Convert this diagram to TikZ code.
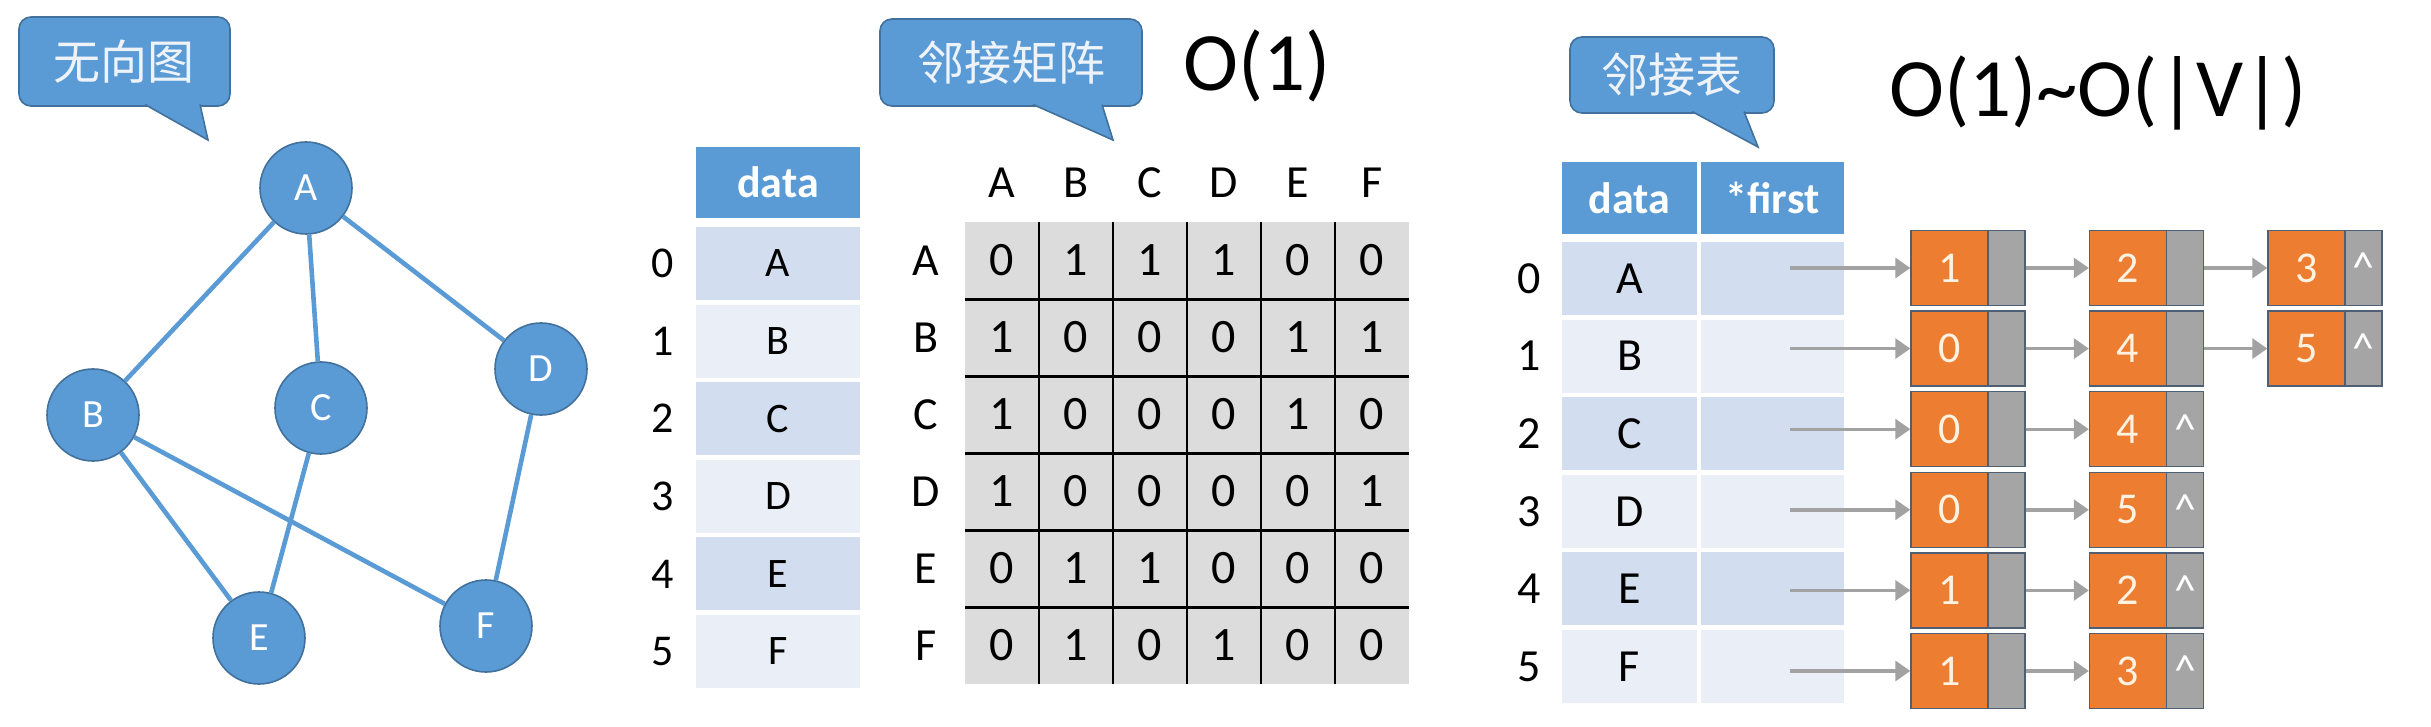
\documentclass[tikz,border=0pt]{standalone}
\usepackage{fontspec}
\setmainfont{Carlito}
\newfontfamily\cjk{Noto Sans CJK SC}
\usetikzlibrary{arrows.meta}
\definecolor{ublue}{HTML}{5B9BD5}
\definecolor{ubord}{HTML}{41719C}
\definecolor{bubtext}{HTML}{EEF3FA}
\definecolor{rowA}{HTML}{D2DEEF}
\definecolor{rowB}{HTML}{EAEFF7}
\definecolor{mgray}{HTML}{DCDCDC}
\definecolor{lorange}{HTML}{ED7D31}
\definecolor{lgray}{HTML}{A5A5A5}
\definecolor{lbord}{HTML}{4F6075}
\definecolor{arrgray}{HTML}{A2A2A2}
\definecolor{ctext}{HTML}{FFF2E2}
\begin{document}
\begin{tikzpicture}[x=0.5pt,y=-0.5pt]
\tikzset{
  vert/.style={circle, fill=ublue, draw=ubord, line width=0.8pt, minimum size=46pt, inner sep=0pt, text=white, font=\fontsize{20}{20}\selectfont},
  gedge/.style={ublue, line width=2.3pt},
  bubble/.style={rounded corners=6pt, fill=ublue, draw=ubord, line width=0.8pt, text=bubtext, font=\cjk\fontsize{23.5}{24}\selectfont, inner sep=0pt},
  tailfill/.style={fill=ublue},
  tailline/.style={draw=ubord, line width=0.8pt},
  hdr/.style={fill=ublue, text=white, font=\bfseries\fontsize{22}{22}\selectfont, inner sep=0pt},
  cellbox/.style={inner sep=0pt, font=\fontsize{21}{21}\selectfont},
  idx/.style={inner sep=0pt, font=\fontsize{22}{22}\selectfont},
  mcell/.style={fill=mgray, minimum width=37pt, minimum height=38.5pt, inner sep=0pt, font=\fontsize{24}{24}\selectfont},
  mlab/.style={inner sep=0pt, font=\fontsize{23}{23}\selectfont},
  bigtxt/.style={inner sep=0pt, font=\fontsize{41.5}{41.5}\selectfont},
  lorg/.style={fill=lorange, draw=lbord, line width=0.7pt, minimum width=38.5pt, minimum height=37.5pt, inner sep=0pt, text=ctext, font=\fontsize{22}{22}\selectfont},
  lgry/.style={fill=lgray, draw=lbord, line width=0.7pt, minimum width=18.5pt, minimum height=37.5pt, inner sep=0pt, text=white, font=\fontsize{22}{22}\selectfont},
  larrow/.style={arrgray, line width=1.7pt, -{Triangle[length=7.5pt,width=10pt]}},
  mline/.style={black, line width=1pt}
}
\fill[white] (0,0) rectangle (2431,727);
\useasboundingbox (0,0) rectangle (2431,727);

% ---------------- graph ----------------
\node[vert] (A) at (306,188) {A};
\node[vert] (B) at (93,415) {B};
\node[vert] (C) at (321,408) {C};
\node[vert] (D) at (541,369) {D};
\node[vert] (E) at (259,638) {E};
\node[vert] (F) at (486,626) {F};
\draw[gedge] (A) -- (B);
\draw[gedge] (A) -- (C);
\draw[gedge] (A) -- (D);
\draw[gedge] (B) -- (E);
\draw[gedge] (B) -- (F);
\draw[gedge] (C) -- (E);
\draw[gedge] (D) -- (F);

% ---------------- bubbles ----------------
\node[bubble, minimum width=105.5pt, minimum height=44.5pt] (bub1) at (124.5,61.5) {无向图};
\coordinate (t1l) at (145,104.5);
\coordinate (t1r) at (200,104.5);
\coordinate (t1tip) at (208,140);
\fill[tailfill] (t1l) -- (t1tip) -- (t1r) -- cycle;
\draw[tailline] (t1l) -- (t1tip) -- (t1r);

\node[bubble, minimum width=131pt, minimum height=43.5pt] (bub2) at (1011,62.5) {邻接矩阵};
\coordinate (t2l) at (1033,104.5);
\coordinate (t2r) at (1102,104.5);
\coordinate (t2tip) at (1113,140);
\fill[tailfill] (t2l) -- (t2tip) -- (t2r) -- cycle;
\draw[tailline] (t2l) -- (t2tip) -- (t2r);

\node[bubble, minimum width=102pt, minimum height=38pt] (bub3) at (1672,75) {邻接表};
\coordinate (t3l) at (1692,111.5);
\coordinate (t3r) at (1744,111.5);
\coordinate (t3tip) at (1758,147);
\fill[tailfill] (t3l) -- (t3tip) -- (t3r) -- cycle;
\draw[tailline] (t3l) -- (t3tip) -- (t3r);

\node[bigtxt, anchor=base] (o1) at (1257,91) {O(1)};
\node[bigtxt, anchor=base] (o2) at (2098,117) {O(1)\textasciitilde O(|V|)};

% ---------------- middle table ----------------
\node[hdr, minimum width=82pt, minimum height=35.5pt] (mh) at (778,182.5) {data};
\foreach \i/\L/\c in {0/A/rowA,1/B/rowB,2/C/rowA,3/D/rowB,4/E/rowA,5/F/rowB} {
  \node[cellbox, fill=\c, minimum width=82pt, minimum height=36.5pt] (md-\i) at (778,263.5+77.6*\i) {\L};
  \node[idx] (mi-\i) at (663,263.5+77.6*\i) {\i};
}

% ---------------- matrix ----------------
\foreach \row [count=\i from 0] in {{0,1,1,1,0,0},{1,0,0,0,1,1},{1,0,0,0,1,0},{1,0,0,0,0,1},{0,1,1,0,0,0},{0,1,0,1,0,0}} {
  \foreach \v [count=\j from 0] in \row {
    \node[mcell] (m-\i-\j) at (1002+74*\j,260.5+77*\i) {\v};
  }
}
\foreach \L [count=\j from 0] in {A,B,C,D,E,F} {
  \node[mlab] (mc-\j) at (1002+74*\j,183) {\L};
  \node[mlab] (mr-\j) at (926,260.5+77*\j) {\L};
}
\foreach \j in {0,...,4} {
  \draw[mline] (m-0-\j.north east) -- (m-5-\j.south east);
}
\foreach \i in {0,...,4} {
  \draw[mline, line width=1.3pt] (m-\i-0.south west) -- (m-\i-5.south east);
}

% ---------------- adjacency list table ----------------
\node[hdr, minimum width=67.5pt, minimum height=36pt] (rh1) at (1629.5,198) {data};
\node[hdr, minimum width=71.5pt, minimum height=36pt] (rh2) at (1772.5,198) {*first};
\foreach \i/\L/\c in {0/A/rowA,1/B/rowB,2/C/rowA,3/D/rowB,4/E/rowA,5/F/rowB} {
  \node[cellbox, fill=\c, minimum width=67.5pt, minimum height=36.5pt, font=\fontsize{23}{23}\selectfont] (rd-\i) at (1629.5,278.5+77.6*\i) {\L};
  \node[cellbox, fill=\c, minimum width=71.5pt, minimum height=36.5pt] (rf-\i) at (1772.5,278.5+77.6*\i) {};
  \node[idx, font=\fontsize{23}{23}\selectfont] (ri-\i) at (1529,278.5+77.6*\i) {\i};
}

% ---------------- linked lists ----------------
\foreach \i/\n/\lst in {0/3/{1,2,3},1/3/{0,4,5},2/2/{0,4},3/2/{0,5},4/2/{1,2},5/2/{1,3}} {
  \coordinate (fs-\i) at (1790,268+80.6*\i);
  \foreach \v [count=\k, remember=\k as \kp (initially 0)] in \lst {
    \node[lorg] (lo-\i-\k) at (1949.5+178.5*\k-178.5,268+80.6*\i) {\v};
    \node[lgry] (lg-\i-\k) at (2006.5+178.5*\k-178.5,268+80.6*\i) {\ifnum\k=\n\raisebox{-2pt}{\textasciicircum}\fi};
    \ifnum\k>1
      \draw[larrow] (lg-\i-\kp.east) -- (lo-\i-\k.west);
    \fi
  }
  \draw[larrow] (fs-\i) -- (lo-\i-1.west);
}
\end{tikzpicture}
\end{document}
